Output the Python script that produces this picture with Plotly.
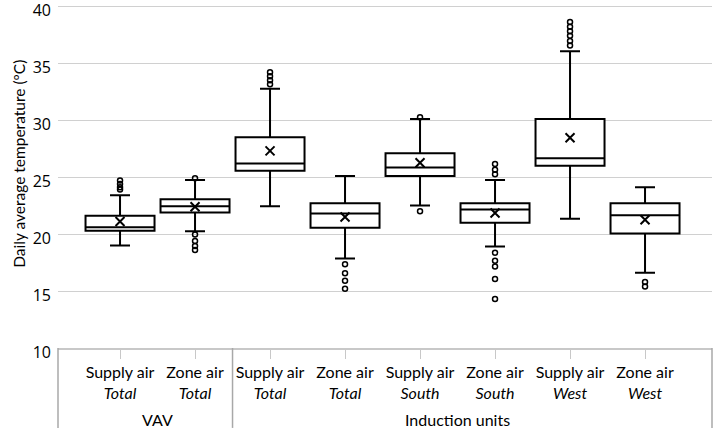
import plotly.graph_objects as go

# ---- data ----
air_types = ["Supply air", "Zone air", "Supply air", "Zone air",
             "Supply air", "Zone air", "Supply air", "Zone air"]
zones = ["Total", "Total", "Total", "Total", "South", "South", "West", "West"]
groups = ["VAV", "VAV", "Induction units", "Induction units",
          "Induction units", "Induction units", "Induction units", "Induction units"]

q1 = [20.3, 21.9, 25.55, 20.55, 25.1, 21.0, 26.0, 20.05]
median = [20.6, 22.45, 26.2, 21.8, 25.85, 22.15, 26.65, 21.65]
q3 = [21.6, 23.05, 28.5, 22.7, 27.1, 22.7, 30.1, 22.7]
lower_whisker = [19.0, 20.25, 22.45, 17.85, 22.5, 18.9, 21.35, 16.6]
upper_whisker = [23.4, 24.75, 32.75, 25.1, 30.1, 24.75, 36.05, 24.1]
mean = [21.1, 22.4, 27.3, 21.5, 26.25, 21.85, 28.45, 21.25]
outliers = [
    [23.9, 24.1, 24.4, 24.7],
    [24.9, 19.95, 19.4, 18.95, 18.6],
    [33.15, 33.5, 33.85, 34.2],
    [17.35, 16.55, 15.9, 15.2],
    [30.25, 22.0],
    [25.25, 25.65, 26.15, 18.35, 17.65, 17.15, 16.05, 14.3],
    [36.55, 36.95, 37.4, 37.8, 38.2, 38.6],
    [15.8, 15.4],
]
y_ticks = [10, 15, 20, 25, 30, 35, 40]
y_title = "Daily average temperature (ºC)"

# ---- figure ----
pos = list(range(len(air_types)))
tick_text = [f"{a}<br><i>{z}</i>" for a, z in zip(air_types, zones)]

fig = go.Figure()
fig.add_trace(go.Box(
    x=pos, q1=q1, median=median, q3=q3,
    lowerfence=lower_whisker, upperfence=upper_whisker,
    width=0.92, whiskerwidth=0.29,
    fillcolor="white", line=dict(color="black", width=2),
    boxpoints=False, showlegend=False, hoverinfo="skip",
))

ox, oy = [], []
for p, vals in zip(pos, outliers):
    for v in vals:
        ox.append(p)
        oy.append(v)
fig.add_trace(go.Scatter(
    x=ox, y=oy, mode="markers", showlegend=False,
    marker=dict(symbol="circle-open", size=5, color="black", line=dict(width=1.5)),
))
fig.add_trace(go.Scatter(
    x=pos, y=mean, mode="markers", showlegend=False,
    marker=dict(symbol="x-thin", size=9, color="black", line=dict(width=2, color="black")),
))

# group labels and dividers
group_names = []
for g in groups:
    if g not in group_names:
        group_names.append(g)
for g in group_names:
    idx = [i for i, gg in enumerate(groups) if gg == g]
    fig.add_annotation(x=sum(idx) / len(idx), y=-0.208, xref="x", yref="paper",
                       text=g, showarrow=False, yanchor="middle",
                       font=dict(family="Lato", size=16, color="black"))
for i in range(1, len(groups)):
    if groups[i] != groups[i - 1]:
        fig.add_shape(type="line", xref="x", yref="paper", x0=i - 0.5, x1=i - 0.5,
                      y0=0, y1=-0.233, line=dict(color="#a8a8a8", width=1.5))
for xe in (0, 1):
    fig.add_shape(type="line", xref="paper", yref="paper", x0=xe, x1=xe,
                  y0=0, y1=-0.233, line=dict(color="#a8a8a8", width=1.5))

fig.add_annotation(x=-0.076, y=0.538, xref="paper", yref="paper", text=y_title,
                   textangle=-90, showarrow=False,
                   font=dict(family="Lato", size=15.5, color="black"))

fig.update_layout(
    width=716, height=433,
    margin=dict(l=58, r=4, t=5, b=85),
    paper_bgcolor="white", plot_bgcolor="white",
    xaxis=dict(
        range=[-0.827, 7.893], tickmode="array", tickvals=pos, ticktext=tick_text,
        showgrid=False, zeroline=False, showline=True, linecolor="#c8c8c8", linewidth=1.5,
        ticks="outside", ticklen=9, tickcolor="#c8c8c8", tickwidth=1,
        tickfont=dict(family="Lato", size=16, color="black"),
    ),
    yaxis=dict(
        range=[10, 40.1], tickmode="array", tickvals=y_ticks, automargin=False,
        showgrid=True, gridcolor="#d0d0d0", gridwidth=1, zeroline=False, showline=False,
        ticks="", ticklabelstandoff=6, ticklabeloverflow="allow", ticklabelshift=4,
        tickfont=dict(family="Open Sans", size=16, color="black"),
    ),
)

fig.write_html("out.html")
